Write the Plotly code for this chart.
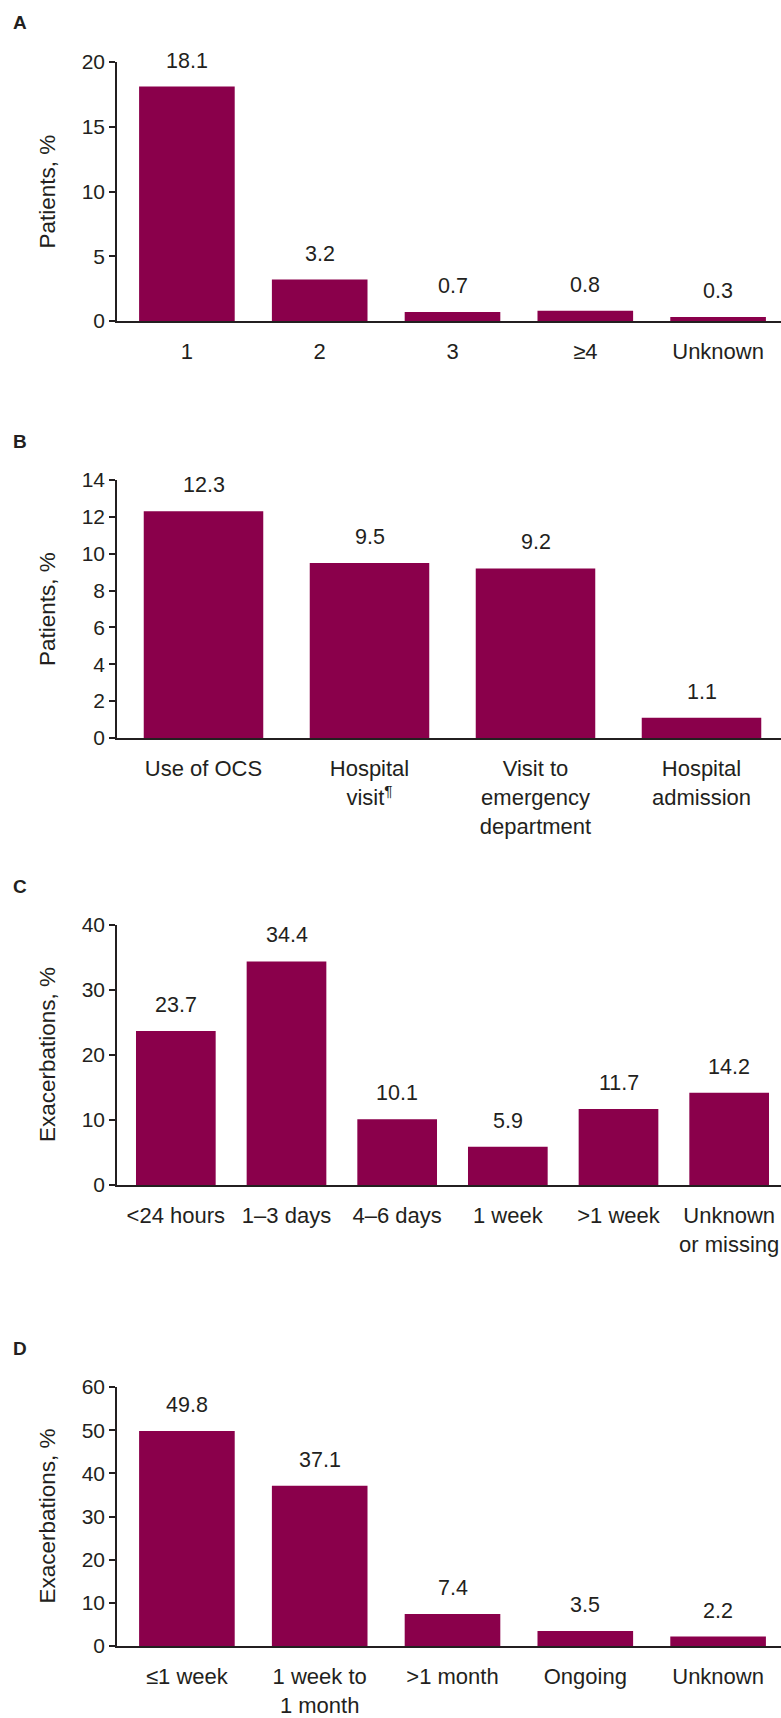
import plotly.graph_objects as go

# ---- data ----
cats_a = ["1", "2", "3", "≥4", "Unknown"]
vals_a = [18.1, 3.2, 0.7, 0.8, 0.3]

cats_b = ["Use of OCS", "Hospital<br>visit<sup>¶</sup>", "Visit to<br>emergency<br>department", "Hospital<br>admission"]
vals_b = [12.3, 9.5, 9.2, 1.1]

cats_c = ["&lt;24 hours", "1–3 days", "4–6 days", "1 week", "&gt;1 week", "Unknown<br>or missing"]
vals_c = [23.7, 34.4, 10.1, 5.9, 11.7, 14.2]

cats_d = ["≤1 week", "1 week to<br>1 month", "&gt;1 month", "Ongoing", "Unknown"]
vals_d = [49.8, 37.1, 7.4, 3.5, 2.2]

panel_letters = ["A", "B", "C", "D"]
y_titles = ["Patients, %", "Patients, %", "Exacerbations, %", "Exacerbations, %"]
y_max = [20, 14, 40, 60]
y_dtick = [5, 2, 10, 10]

# ---- style / layout ----
W, H = 781, 1718
L, R = 117, 0
TOP, BOT = 62, 1646
BAR = "#8a004b"
INK = "#231f20"
FONT = "Liberation Sans, Arial, Helvetica, sans-serif"
FS_X = 22
FS_Y = 21
FS_V = 21.5
FS_T = 22.5

panels_px = [(62, 321), (480, 738), (925, 1185), (1387, 1646)]
plot_h = BOT - TOP
plot_w = W - L - R


def py(px):
    return (BOT - px) / plot_h


def pxx(px):
    return (px - L) / plot_w


fig = go.Figure()
datasets = [(cats_a, vals_a), (cats_b, vals_b), (cats_c, vals_c), (cats_d, vals_d)]
annotations = []
layout_axes = {}

for i, (cats, vals) in enumerate(datasets):
    n = i + 1
    xa = "x" if n == 1 else f"x{n}"
    ya = "y" if n == 1 else f"y{n}"
    idx = list(range(len(cats)))
    fig.add_trace(go.Bar(x=idx, y=vals, xaxis=xa, yaxis=ya, marker_color=BAR,
                         marker_line_width=0, showlegend=False, hoverinfo="skip"))
    top_px, bot_px = panels_px[i]
    k = len(cats)
    shift = 3.5 / (plot_w / k)
    layout_axes[f"xaxis{'' if n == 1 else n}"] = dict(
        domain=[0, 1], anchor=ya, type="linear",
        tickmode="array", tickvals=idx, ticktext=cats,
        range=[-0.5 - shift, k - 0.5 - shift],
        showline=True, linecolor=INK, linewidth=2, ticks="",
        showgrid=False, zeroline=False, ticklabelstandoff=10,
        tickfont=dict(family=FONT, size=FS_X, color=INK), fixedrange=True)
    layout_axes[f"yaxis{'' if n == 1 else n}"] = dict(
        domain=[py(bot_px), py(top_px)], anchor=xa,
        range=[0, y_max[i]], dtick=y_dtick[i], tick0=0,
        showline=True, linecolor=INK, linewidth=1.5,
        ticks="outside", ticklen=6, tickwidth=1.5, tickcolor=INK,
        showgrid=False, zeroline=False,
        tickfont=dict(family=FONT, size=FS_Y, color=INK), fixedrange=True)
    # value labels
    for j, v in zip(idx, vals):
        annotations.append(dict(x=j, y=v, xref=xa, yref=ya, text=f"{v:.1f}",
                                showarrow=False, yanchor="bottom", yshift=12,
                                font=dict(family=FONT, size=FS_V, color=INK)))
    # panel letter
    annotations.append(dict(x=pxx(11), y=py(top_px - 39), xref="paper", yref="paper",
                            text=f"<b>{panel_letters[i]}</b>", showarrow=False,
                            xanchor="left", yanchor="middle",
                            font=dict(family=FONT, size=19, color=INK)))
    # y-axis title
    annotations.append(dict(x=pxx(47), y=py((top_px + bot_px) / 2), xref="paper", yref="paper",
                            text=y_titles[i], textangle=-90, showarrow=False,
                            xanchor="center", yanchor="middle",
                            font=dict(family=FONT, size=FS_T, color=INK)))

fig.update_layout(
    width=W, height=H,
    margin=dict(l=L, r=R, t=TOP, b=H - BOT, autoexpand=False),
    paper_bgcolor="white", plot_bgcolor="white",
    bargap=0.28, annotations=annotations, **layout_axes)

fig.write_html("out.html", config={"displayModeBar": False},
               post_script="document.body.style.margin='0';document.body.style.overflow='hidden';")
